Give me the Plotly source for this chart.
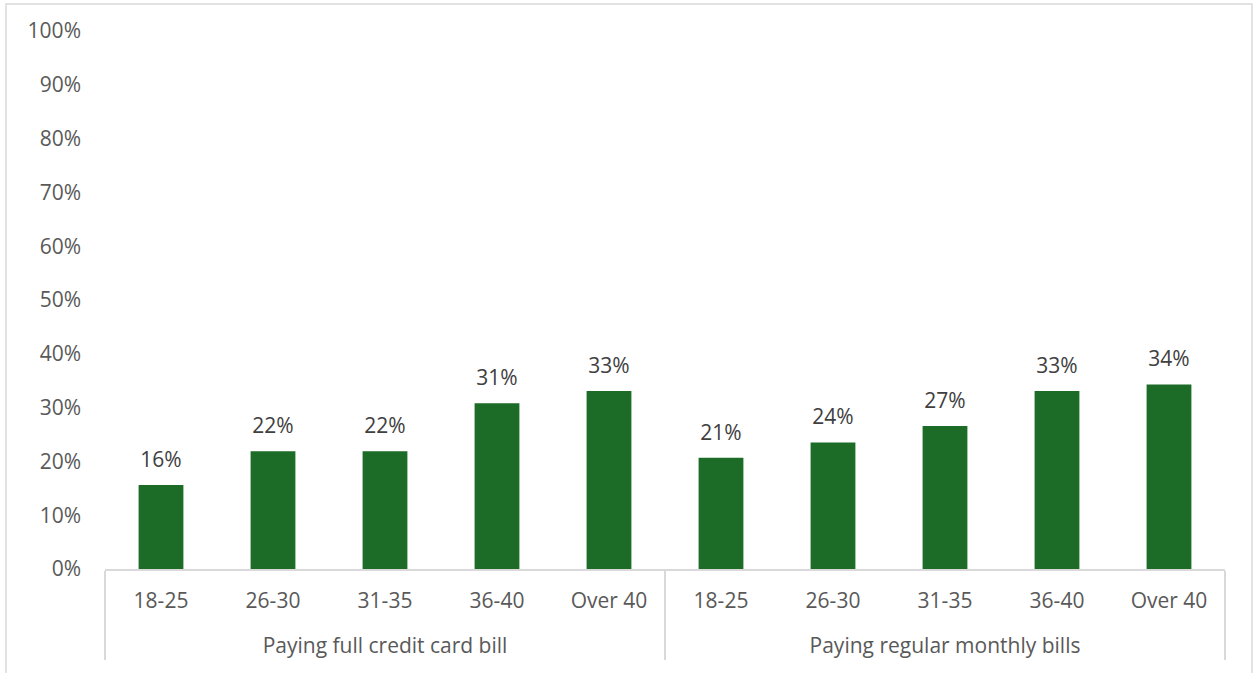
import plotly.graph_objects as go

groups = ["Paying full credit card bill"] * 5 + ["Paying regular monthly bills"] * 5
ages = ["18-25", "26-30", "31-35", "36-40", "Over 40"] * 2
values = [0.156, 0.219, 0.219, 0.308, 0.331, 0.207, 0.235, 0.266, 0.331, 0.343]

FONT = "Open Sans"
FS = 21

group_labels = ["<br>" + g for g in groups]

fig = go.Figure()
fig.add_trace(
    go.Bar(
        x=[group_labels, ages],
        y=values,
        marker=dict(color="#1c6b26", line=dict(width=0)),
        width=0.4,
        hoverinfo="skip",
    )
)
fig.add_trace(
    go.Scatter(
        x=[group_labels, ages],
        y=values,
        mode="markers+text",
        marker=dict(size=19, opacity=0),
        texttemplate="%{y:.0%}",
        textposition="top center",
        textfont=dict(family=FONT, size=FS, color="#404040"),
        cliponaxis=False,
    )
)

fig.update_layout(
    width=1253,
    height=673,
    margin=dict(l=105, r=28, t=31, b=104),
    paper_bgcolor="white",
    plot_bgcolor="white",
    showlegend=False,
    font=dict(family=FONT, size=FS, color="#595959"),
    shapes=[
        dict(type="rect", xref="paper", yref="paper",
             x0=-0.0884, x1=1.0241, y0=-0.25, y1=1.0502,
             line=dict(color="#d9d9d9", width=1.5), layer="below")
    ],
)

fig.update_xaxes(
    type="multicategory",
    range=[-0.5, 9.5],
    autorange=False,
    showline=True,
    linecolor="#d9d9d9",
    linewidth=1.5,
    showgrid=False,
    ticks="",
    showdividers=True,
    dividercolor="#d9d9d9",
    dividerwidth=1.5,
    ticklabelstandoff=12,
    tickfont=dict(family=FONT, size=FS, color="#595959"),
)

fig.update_yaxes(
    range=[0, 1],
    dtick=0.1,
    tickformat=".0%",
    showgrid=False,
    zeroline=False,
    showline=False,
    ticks="",
    ticklabelstandoff=23,
    tickfont=dict(family=FONT, size=FS, color="#595959"),
)

fig.write_html("out.html")
